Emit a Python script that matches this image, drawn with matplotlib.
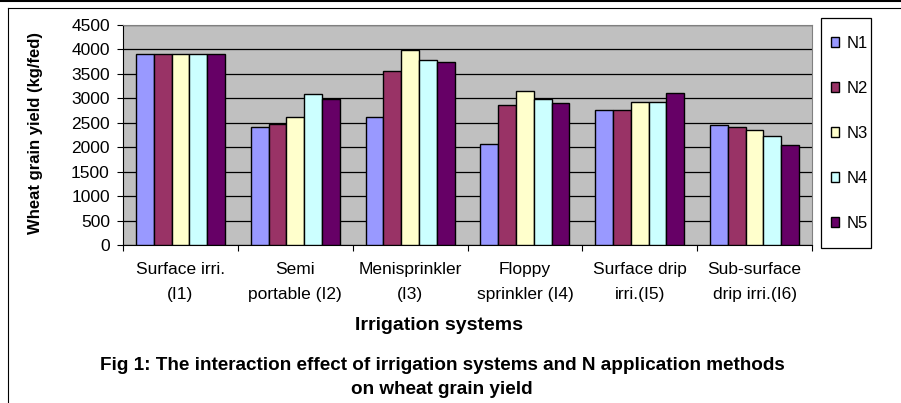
import numpy as np
import matplotlib.pyplot as plt
from matplotlib.lines import Line2D
from matplotlib.patches import Patch, Rectangle

# data
systems = ['Surface irri.\n(I1)', 'Semi\nportable (I2)', 'Menisprinkler\n(I3)',
           'Floppy\nsprinkler (I4)', 'Surface drip\nirri.(I5)', 'Sub-surface\ndrip irri.(I6)']
N1 = [3900, 2420, 2610, 2070, 2770, 2450]
N2 = [3900, 2480, 3565, 2860, 2770, 2420]
N3 = [3900, 2610, 3995, 3150, 2920, 2360]
N4 = [3900, 3080, 3780, 2990, 2920, 2235]
N5 = [3900, 2995, 3750, 2900, 3115, 2040]
series = [N1, N2, N3, N4, N5]
names = ['N1', 'N2', 'N3', 'N4', 'N5']
colors = ['#9999FF', '#993366', '#FFFFCC', '#CCFFFF', '#660066']

plt.rcParams['font.family'] = ['Liberation Sans', 'DejaVu Sans']

W, H = 901, 403
fig = plt.figure(figsize=(W/100, H/100), dpi=100)
ax = fig.add_axes([123/W, 1-245/H, (812-123)/W, (245-25)/H])
ax.set_facecolor('#C0C0C0')

x = np.arange(len(systems))
w = 0.155
for i, (vals, c) in enumerate(zip(series, colors)):
    ax.bar(x + (i-2)*w, vals, w, color=c, edgecolor='black', linewidth=1.0, zorder=3)

ax.set_xlim(-0.5, len(systems)-0.5)
ax.set_ylim(0, 4500)
ax.set_yticks(np.arange(0, 4501, 500))
ax.yaxis.grid(True, color='black', linewidth=0.9, zorder=1)
ax.set_axisbelow(True)
ax.tick_params(axis='y', labelsize=12.5, length=4.5, width=0.8, pad=5)

ax.set_xticks(x)
ax.set_xticklabels(systems, fontsize=12.5, linespacing=1.85)
ax.set_xticks(np.arange(-0.5, len(systems)), minor=True)
ax.tick_params(axis='x', which='major', length=0, pad=12)
ax.tick_params(axis='x', which='minor', length=4, width=0.8)

for s in ['top', 'right']:
    ax.spines[s].set_color('#808080')
for s in ['left', 'bottom']:
    ax.spines[s].set_color('black')

fig.text(36/W, 1-133/H, 'Wheat grain yield (kg/fed)', rotation=90, ha='center', va='center',
         fontsize=12, fontweight='bold')
fig.text(439/W, 1-325/H, 'Irrigation systems', ha='center', va='center',
         fontsize=14, fontweight='bold')
fig.text(442/W, 1-366/H, 'Fig 1: The interaction effect of irrigation systems and N application methods',
         ha='center', va='center', fontsize=13.6, fontweight='bold')
fig.text(442/W, 1-390/H, 'on wheat grain yield', ha='center', va='center',
         fontsize=13.6, fontweight='bold')

# legend box drawn separately, entries placed inside it
fig.add_artist(Rectangle((821/W, 1-248/H), 50/W, 230/H, transform=fig.transFigure,
                         facecolor='white', edgecolor='black', linewidth=0.9))
handles = [Patch(facecolor=c, edgecolor='black', linewidth=1.0) for c in colors]
leg = fig.legend(handles, names, loc='upper left', bbox_to_anchor=(831/W, 1-36/H),
                 fontsize=12, frameon=False,
                 handlelength=0.5, handleheight=0.5, handletextpad=0.45,
                 labelspacing=1.8, borderpad=0, borderaxespad=0)

# outer frame lines
fig.add_artist(Line2D([0, 1], [1-1/H, 1-1/H], color='black', linewidth=1.5))
fig.add_artist(Line2D([7.5/W, 1], [1-7.5/H, 1-7.5/H], color='black', linewidth=0.8))
fig.add_artist(Line2D([7.5/W, 7.5/W], [0, 1-7.5/H], color='black', linewidth=0.8))

fig.savefig('out.png', dpi=100)
